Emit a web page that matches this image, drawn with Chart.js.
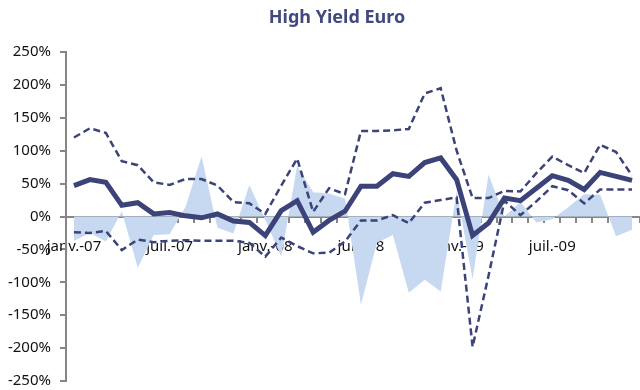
<!DOCTYPE html>
<html>
<head>
<meta charset="utf-8">
<title>High Yield Euro</title>
<script src="https://cdn.jsdelivr.net/npm/chart.js@4"></script>
<style>
    html, body { margin: 0; padding: 0; background: #fff; }
    #wrap { width: 640px; height: 390px; position: relative; }
</style>
</head>
<body>
<div id="wrap"><canvas id="chart"></canvas></div>
<script>
// Chart data (values in %)
const titleText = 'High Yield Euro';

const months = [
    'janv.-07', 'févr.-07', 'mars-07', 'avr.-07', 'mai-07', 'juin-07',
    'juil.-07', 'août-07', 'sept.-07', 'oct.-07', 'nov.-07', 'déc.-07',
    'janv.-08', 'févr.-08', 'mars-08', 'avr.-08', 'mai-08', 'juin-08',
    'juil.-08', 'août-08', 'sept.-08', 'oct.-08', 'nov.-08', 'déc.-08',
    'janv.-09', 'févr.-09', 'mars-09', 'avr.-09', 'mai-09', 'juin-09',
    'juil.-09', 'août-09', 'sept.-09', 'oct.-09', 'nov.-09', 'déc.-09'
];

const mainSeries = [47, 56, 52, 17, 21, 4, 6, 1, -2, 4, -7, -9,
                    -29, 9, 24, -24, -6, 8, 46, 46, 65, 61, 82, 89,
                    56, -29, -10, 28, 24, 43, 62, 55, 41, 67, 61, 55];

const upperBand = [120, 134, 127, 84, 78, 52, 48, 57, 57, 47, 22, 20,
                   4, 47, 88, 7, 43, 34, 130, 130, 131, 133, 187, 195,
                   100, 28, 28, 39, 38, 66, 91, 78, 66, 109, 98, 62];

const lowerBand = [-24, -25, -22, -51, -35, -39, -37, -36, -37, -37, -37, -40,
                   -61, -32, -45, -56, -55, -38, -6, -6, 2, -10, 21, 25,
                   29, -198, -90, 24, 2, 23, 46, 40, 20, 41, 41, 41];

const areaSeries = [-37, -25, -38, 8, -78, -28, -27, 15, 91, -17, -26, 48,
                    -5, -61, 77, 37, 35, 27, -134, -40, -28, -116, -96, -114,
                    38, -95, 64, 0, 22, -9, -4, 14, 34, 33, -30, -20];

const yTicks = [-250, -200, -150, -100, -50, 0, 50, 100, 150, 200, 250];

const navy = '#3c4379';
const axisGrey = '#868686';
const labelFont = { family: '"Noto Sans", sans-serif', size: 15 };

// Title drawn a bit right of centre, as in the original sheet
const titlePlugin = {
    id: 'sheetTitle',
    afterDraw(chart) {
        const ctx = chart.ctx;
        ctx.save();
        ctx.font = 'bold 18px "Noto Sans", sans-serif';
        ctx.fillStyle = '#404a7c';
        ctx.textAlign = 'center';
        ctx.textBaseline = 'middle';
        ctx.fillText(titleText, chart.width / 2 + 17, 18);
        ctx.restore();
    }
};

function lineSet(label, data, width, dash) {
    return {
        label: label,
        data: data,
        borderColor: navy,
        borderWidth: width,
        borderDash: dash,
        pointRadius: 0,
        tension: 0,
        fill: false
    };
}

// keep the plot box fixed: no extra room for the end labels
function noScalePadding(scale) {
    scale.paddingTop = 0;
    scale.paddingBottom = 0;
    scale.paddingLeft = 0;
    scale.paddingRight = 0;
}

const ctx = document.getElementById('chart').getContext('2d');
new Chart(ctx, {
    type: 'line',
    data: {
        labels: months,
        datasets: [
            lineSet('Median', mainSeries, 5, []),
            lineSet('Upper', upperBand, 2.5, [7, 4]),
            lineSet('Lower', lowerBand, 2.5, [7, 4]),
            {
                label: 'Spread',
                data: areaSeries,
                backgroundColor: '#c6d9f1',
                borderWidth: 0,
                pointRadius: 0,
                tension: 0,
                fill: 'origin'
            }
        ]
    },
    options: {
        responsive: true,
        maintainAspectRatio: false,
        animation: false,
        layout: { padding: { top: 52, bottom: 9, left: 0, right: 0 } },
        plugins: {
            legend: { display: false },
            tooltip: { enabled: false },
            title: { display: false }
        },
        scales: {
            x: {
                position: { y: 0 },
                offset: true,
                afterFit: noScalePadding,
                grid: {
                    offset: true,
                    drawOnChartArea: false,
                    drawTicks: true,
                    tickLength: 5,
                    color: axisGrey,
                    lineWidth: 2
                },
                border: { color: axisGrey, width: 2 },
                ticks: {
                    autoSkip: false,
                    maxRotation: 0,
                    padding: 16,
                    color: '#111',
                    font: labelFont,
                    callback: function(value, index) {
                        return index % 6 === 0 ? this.getLabelForValue(value) : '';
                    }
                }
            },
            y: {
                min: yTicks[0],
                max: yTicks[yTicks.length - 1],
                afterBuildTicks: function(scale) {
                    scale.ticks = yTicks.map(function(v) { return { value: v }; });
                },
                afterFit: function(scale) {
                    scale.width = 66;
                    noScalePadding(scale);
                },
                grid: {
                    drawOnChartArea: false,
                    tickLength: 6,
                    color: axisGrey,
                    lineWidth: 2
                },
                border: { color: axisGrey, width: 2 },
                ticks: {
                    padding: 9,
                    color: '#111',
                    font: labelFont,
                    callback: function(value) {
                        return value + '%';
                    }
                }
            }
        }
    },
    plugins: [titlePlugin]
});
</script>
</body>
</html>
